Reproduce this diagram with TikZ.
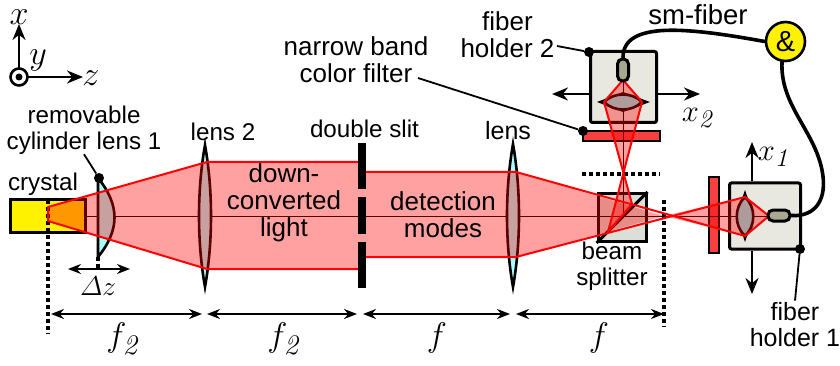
\documentclass[tikz,border=0pt]{standalone}
\usepackage{fontspec}
\newfontfamily\lblfont{Liberation Sans}
\usetikzlibrary{arrows.meta}
\definecolor{lenscol}{HTML}{A8FEFE}
\definecolor{smalllenscol}{HTML}{80F8F8}
\definecolor{holdercol}{HTML}{E8E8E0}
\definecolor{tipcol}{HTML}{A8A890}
\definecolor{filtercol}{HTML}{F84040}
\definecolor{cubecol}{HTML}{DCDED8}
\tikzset{
  lbl/.style={font=\lblfont\fontsize{24.2}{25.5}\selectfont,align=center,inner sep=0pt},
  biglbl/.style={font=\lblfont\fontsize{26}{27}\selectfont,align=center,inner sep=0pt},
  mathlbl/.style={font=\Huge,scale=1.37,inner sep=0pt},
  beamfill/.style={fill=red,fill opacity=.37,draw=none},
  beamline/.style={draw=red,line width=2pt,line join=round},
  lensbody/.style={draw=black,fill=lenscol,line width=2.6pt,miter limit=20},
  smalllens/.style={draw=black,fill=smalllenscol,line width=2.6pt},
  dotline/.style={line width=3.5pt,dash pattern=on 3.5pt off 3.5pt},
  dotmark/.style={circle,fill=black,inner sep=0pt,minimum size=10pt},
  dimarrow/.style={line width=1.8pt,{Stealth[length=13pt,width=10pt]}-{Stealth[length=13pt,width=10pt]}},
  movearrow/.style={line width=2.4pt,-{Stealth[length=16pt,width=13pt]}},
  leader/.style={line width=1.8pt},
  holderbox/.style={draw=black,fill=holdercol,line width=3pt,rounded corners=2pt,inner sep=0pt},
  filterbox/.style={draw=black,fill=filtercol,line width=2pt,inner sep=0pt},
  tipbox/.style={draw=black,fill=tipcol,line width=3pt,rounded corners=5pt,inner sep=0pt},
  fiberline/.style={line width=3.6pt,line cap=round}
}
\begin{document}
\begin{tikzpicture}[x=1pt,y=-1pt]
\useasboundingbox (0,0) rectangle (840,366);
% coordinate system
\node[circle,draw=black,line width=2.6pt,fill=white,minimum size=17pt,inner sep=0pt] (origin) at (19,77) {};
\node[circle,fill=black,minimum size=7pt,inner sep=0pt] at (origin) {};
\coordinate (xtop) at (19,24);
\coordinate (zend) at (83,77);
\draw[movearrow] (origin) ++(0,-9) -- (xtop);
\draw[movearrow] (origin) ++(9,0) -- (zend);
\node[mathlbl] (xlabel) at (19,17) {$x$};
\node[mathlbl] (ylabel) at (38,60) {$y$};
\node[mathlbl] (zlabel) at (91,78) {$z$};
% holders and filters
\node[holderbox,minimum width=66pt,minimum height=71pt] (holdertwo) at (623.5,87) {};
\node[holderbox,minimum width=71pt,minimum height=66pt] (holderone) at (765,216) {};
\node[filterbox,minimum width=77pt,minimum height=10pt] (filtertwo) at (621.5,136) {};
\node[filterbox,minimum width=10pt,minimum height=76pt,line width=1.6pt] (filterone) at (714,215) {};
\node[draw=black,fill=cubecol,line width=3pt,minimum size=48pt,inner sep=0pt] (cube) at (622,217.5) {};
\draw[line width=3pt] (cube.south west) -- (cube.north east);
% crystal
\node[draw=black,fill=yellow,line width=3.4pt,minimum width=75pt,minimum height=33pt,inner sep=0pt] (crystal) at (48,216) {};
% optical axes
\draw[line width=1pt] (crystal.east) -- (769,216);
\draw[line width=1pt] (623,80) -- (623,216);
% lenses
\draw[lensbody] (98,178) .. controls (120,205) and (120,230) .. (98,257) -- cycle;
\draw[lensbody] (205,145) .. controls (213,190) and (213,242) .. (205,287) .. controls (197,242) and (197,190) .. (205,145) -- cycle;
\draw[lensbody] (513,144) .. controls (521,190) and (521,242) .. (513,287) .. controls (505,242) and (505,190) .. (513,144) -- cycle;
\fill (745,190) -- (754,216) -- (745,242) -- (736,216) -- cycle;
\draw[smalllens] (745,197) .. controls (756,207) and (756,226) .. (745,236) .. controls (734,226) and (734,207) .. (745,197) -- cycle;
\fill (597,102) -- (623,92) -- (650,102) -- (623,112) -- cycle;
\draw[smalllens] (604,102) .. controls (614,92) and (632,92) .. (642,102) .. controls (632,112) and (614,112) .. (604,102) -- cycle;
% dotted planes
\draw[dotline] (48,200) -- (48,334);
\draw[dotline] (664,200) -- (664,327);
\draw[dotline] (582,174) -- (660,174);
\draw[dotline] (98,257) -- (98,268);
% light
\path[beamfill] (48,207) -- (207,162) -- (362,162) -- (362,269) -- (207,269) -- (48,221) -- cycle;
\path[beamfill] (362,172) -- (516,172) -- (664,216) -- (516,257) -- (362,257) -- cycle;
\path[beamfill] (664,216) -- (745,197) -- (769,216) -- (745,236) -- cycle;
\path[beamfill] (608,232) -- (623,174) -- (632,204) -- cycle;
\path[beamfill] (623,174) -- (642,102) -- (623,80) -- (604,102) -- cycle;
\draw[beamline] (358,162) -- (207,162) -- (48,207) -- (48,221) -- (207,269) -- (358,269);
\draw[beamline] (366,172) -- (516,172) -- (745,236) -- (769,216) -- (745,197) -- (516,257) -- (366,257);
\draw[beamline] (608,232) -- (642,102) -- (623,80) -- (604,102) -- (632,204);
\draw[beamline] (608,232) -- (632,204);
% double slit
\fill (358,143) rectangle (366,189);
\fill (358,197) rectangle (366,234);
\fill (358,242) rectangle (366,288);
% fibers
\node[tipbox,minimum width=11pt,minimum height=22pt,rounded corners=5pt] (tiptwo) at (623,70) {};
\node[tipbox,minimum width=22pt,minimum height=11pt] (tipone) at (779,215.5) {};
\node[circle,draw=black,fill=yellow,line width=2.6pt,minimum size=39pt,inner sep=0pt,font=\lblfont\fontsize{29}{29}\selectfont] (coinc) at (785.5,41.5) {\&};
\draw[fiberline] (tiptwo.north) .. controls (623,20) and (690,28) .. (coinc.west);
\draw[fiberline] (tipone.east) .. controls (815,217) and (828,200) .. (822,170) .. controls (814,130) and (780,105) .. (782,62);
% moving directions
\coordinate (xoneup) at (752,142);
\coordinate (xonedown) at (752,294);
\coordinate (xtwoleft) at (552,94);
\coordinate (xtworight) at (700,94);
\draw[movearrow] (holderone.north -| xoneup) -- (xoneup);
\draw[movearrow] (holderone.south -| xonedown) -- (xonedown);
\draw[movearrow] (holdertwo.west |- xtwoleft) -- (xtwoleft);
\draw[movearrow] (holdertwo.east |- xtworight) -- (xtworight);
\node[mathlbl,scale=.9] (xonelabel) at (773,157) {$x_{\mathit{1}}$};
\node[mathlbl,scale=.9] (xtwolabel) at (697,118) {$x_{\mathit{2}}$};
% distances
\coordinate (dzleft) at (68,269);
\coordinate (dzright) at (130,269);
\draw[dimarrow] (dzleft) -- (dzright);
\node[mathlbl,scale=.8] (dzlabel) at (98,286) {$\mathnormal{\Delta} z$};
\coordinate (fa) at (51,314);
\coordinate (fb) at (202,314);
\coordinate (fc) at (207,314);
\coordinate (fd) at (357,314);
\coordinate (fe) at (363,314);
\coordinate (ff) at (510,314);
\coordinate (fg) at (516,314);
\coordinate (fh) at (664,314);
\draw[dimarrow] (fa) -- (fb);
\draw[dimarrow] (fc) -- (fd);
\draw[dimarrow] (fe) -- (ff);
\draw[dimarrow] (fg) -- (fh);
\node[mathlbl] (fonelabel) at (122,339) {$f_{\mathit{2}}$};
\node[mathlbl] (ftwolabel) at (283,339) {$f_{\mathit{2}}$};
\node[mathlbl] (fthreelabel) at (437,338) {$f$};
\node[mathlbl] (ffourlabel) at (599,338) {$f$};
% labels
\node[lbl] (cyllabel) at (84,130) {removable\\cylinder lens 1};
\node[lbl] (crystallabel) at (43,184) {crystal};
\node[lbl] (lenstwolabel) at (223,132) {lens 2};
\node[biglbl] (lightlabel) at (284,203) {down-\\converted\\light};
\node[lbl] (slitlabel) at (364.5,129) {double slit};
\node[biglbl] (detlabel) at (443,215) {detection\\modes};
\node[lbl,font=\lblfont\fontsize{25}{25}\selectfont] (lenslabel) at (508,131) {lens};
\node[lbl] (cubelabel) at (612,266) {beam\\splitter};
\node[lbl,font=\lblfont\fontsize{25}{26}\selectfont] (holderonelabel) at (795,325) {fiber\\holder 1};
\node[biglbl] (holdertwolabel) at (507.5,35) {fiber\\holder 2};
\node[biglbl] (filterlabel) at (356,60) {narrow band\\color filter};
\node[lbl,font=\lblfont\fontsize{27.5}{27.5}\selectfont] (fiberlabel) at (698,15) {sm-fiber};
% leaders
\node[dotmark] (dotcyl) at (99,178) {};
\node[dotmark] (dotholderone) at (800,249) {};
\node[dotmark] (dotholdertwo) at (589,52) {};
\node[dotmark] (dotfilter) at (583,131) {};
\coordinate (startholdertwo) at (557,46);
\coordinate (startfilter) at (418,78);
\draw[leader] (cyllabel.south) -- (dotcyl);
\draw[leader] (holderonelabel.north) ++(0,-2) -- (dotholderone);
\draw[leader] (startholdertwo) -- (dotholdertwo);
\draw[leader] (startfilter) -- (dotfilter);
\end{tikzpicture}
\end{document}
